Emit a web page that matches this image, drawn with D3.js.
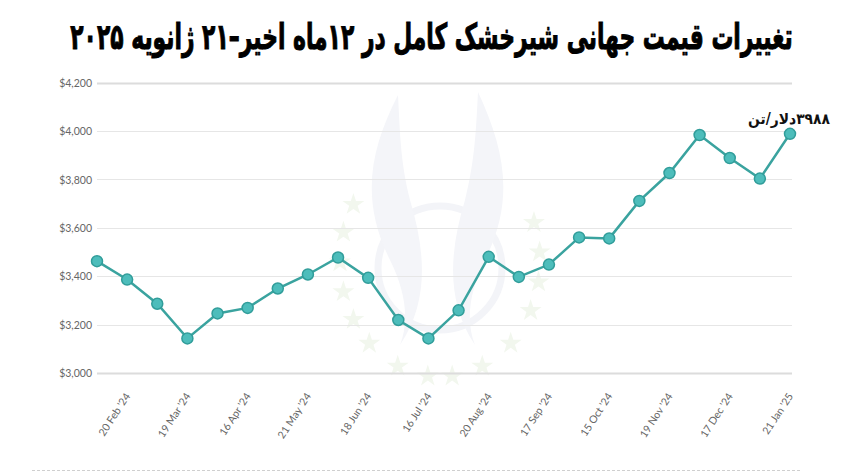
<!DOCTYPE html>
<html>
<head>
<meta charset="utf-8">
<script src="https://cdn.jsdelivr.net/npm/d3@7"></script>
<style>
  html, body { margin: 0; padding: 0; background: #ffffff; }
  svg { display: block; }
</style>
</head>
<body>
<div id="chart"></div>
<script>
// ---- data ----
const dates = [
  "23 Jan '24", "20 Feb '24", "05 Mar '24", "19 Mar '24", "02 Apr '24", "16 Apr '24",
  "07 May '24", "21 May '24", "04 Jun '24", "18 Jun '24", "02 Jul '24", "16 Jul '24",
  "06 Aug '24", "20 Aug '24", "03 Sep '24", "17 Sep '24", "01 Oct '24", "15 Oct '24",
  "05 Nov '24", "19 Nov '24", "03 Dec '24", "17 Dec '24", "07 Jan '25", "21 Jan '25"
];
const prices = [
  3462, 3386, 3286, 3143, 3246, 3269,
  3349, 3407, 3477, 3393, 3219, 3143,
  3259, 3480, 3397, 3448, 3560, 3556,
  3711, 3826, 3983, 3888, 3803, 3988
];
const yTicks = [3000, 3200, 3400, 3600, 3800, 4000, 4200];
const labelledDates = dates.filter((d, i) => i % 2 === 1);
const titleText = "تغییرات قیمت جهانی شیرخشک کامل در ۱۲ماه اخیر–۲۱ ژانویه ۲۰۲۵";
const lastLabel = "۳۹۸۸دلار/تن";

// ---- layout ----
const W = 842, H = 476;
const plotLeft = 97, plotRight = 792, plotTop = 82.5, plotBottom = 373;

const svg = d3.select("#chart").append("svg")
  .attr("width", W).attr("height", H);

const x = d3.scalePoint().domain(dates).range([plotLeft, 790]);
const y = d3.scaleLinear().domain([3000, 4200]).range([plotBottom, plotTop]);

// watermark (faint)
const wm = svg.append("g");
wm.append("circle").attr("cx", 440).attr("cy", 268).attr("r", 62)
  .attr("fill", "none").attr("stroke", "#f3f4f8").attr("stroke-width", 7);
const starAngles = [-150, -165, 180, 165, 150, 135, 115, 97, 83, 65, 45, 25, 10, -5, -20];
const starPath = d3.symbol().type(d3.symbolStar).size(150)();
starAngles.forEach(a => {
  const r = a * Math.PI / 180;
  wm.append("path").attr("d", starPath)
    .attr("transform", `translate(${440 + 100 * Math.cos(r)},${262 + 115 * Math.sin(r)})`)
    .attr("fill", "#f2f7ee");
});
wm.append("path")
  .attr("d", "M398,95 C370,150 360,200 390,260 C405,290 410,320 400,345 C430,300 425,250 410,200 C400,160 400,130 398,95 Z")
  .attr("fill", "#f4f5f9");
wm.append("path")
  .attr("d", "M478,92 C505,150 515,200 485,260 C470,290 465,320 475,345 C445,300 450,250 465,200 C475,160 476,130 478,92 Z")
  .attr("fill", "#f4f5f9");

// gridlines
svg.append("g").selectAll("line").data(yTicks).join("line")
  .attr("x1", plotLeft).attr("x2", plotRight)
  .attr("y1", d => Math.round(y(d)) + 0.5).attr("y2", d => Math.round(y(d)) + 0.5)
  .attr("stroke", d => (d === 3000 || d === 4200) ? "#dcdcdc" : "#e6e6e6")
  .attr("stroke-width", d => (d === 3000 || d === 4200) ? 2 : 1);

// y axis labels
const yAxis = d3.axisLeft(y).tickValues(yTicks).tickSize(0).tickPadding(0)
  .tickFormat(d => "$" + d3.format(",")(d));
const ya = svg.append("g").attr("transform", `translate(92,0)`).call(yAxis);
ya.select(".domain").remove();
ya.selectAll("text").attr("font-family", "Lato, 'Open Sans', sans-serif")
  .attr("font-size", 10.5).attr("fill", "#666").attr("dy", "0.35em");

// x axis labels
const xAxis = d3.axisBottom(x).tickValues(labelledDates).tickSize(0).tickPadding(0);
const xa = svg.append("g").attr("transform", `translate(0,${plotBottom + 17})`).call(xAxis);
xa.select(".domain").remove();
xa.selectAll("text")
  .attr("font-family", "Lato, 'Open Sans', sans-serif")
  .attr("font-size", 10.5).attr("fill", "#666")
  .attr("text-anchor", "end")
  .attr("dy", "0.35em").attr("y", 0).attr("x", 0)
  .attr("transform", "translate(0,4) rotate(-57)");

// line
const line = d3.line().x((d, i) => x(dates[i])).y(d => y(d));
svg.append("path").datum(prices)
  .attr("d", line).attr("fill", "none")
  .attr("stroke", "#3aa39f").attr("stroke-width", 2.5);

// points
svg.append("g").selectAll("circle").data(prices).join("circle")
  .attr("cx", (d, i) => x(dates[i])).attr("cy", d => y(d))
  .attr("r", 5.5)
  .attr("fill", "#4dbdbb").attr("stroke", "#319d9a").attr("stroke-width", 1.5);

// helper: fit rtl text into a box [x0, x1] horizontally
function fitText(sel, x0, x1, baseline, ky) {
  const node = sel.node();
  const w = node.getComputedTextLength();
  const k = (x1 - x0) / w;
  sel.attr("x", 0).attr("y", 0).attr("text-anchor", "middle")
    .attr("transform", `translate(${(x0 + x1) / 2},${baseline}) scale(${k},${ky || 1})`);
}

// last value label
const ll = svg.append("text")
  .attr("direction", "rtl")
  .attr("font-family", "'DejaVu Sans', sans-serif").attr("font-weight", "bold")
  .attr("font-size", 15).attr("fill", "#111")
  .text(lastLabel);
fitText(ll, 748, 830, 124);

// title
const tt = svg.append("text")
  .attr("direction", "rtl")
  .attr("font-family", "'DejaVu Sans', sans-serif").attr("font-weight", "bold")
  .attr("font-size", 31).attr("fill", "#000")
  .attr("stroke", "#000").attr("stroke-width", 0.9)
  .text(titleText);
fitText(tt, 70, 793, 49, 1.15);

// bottom dashed line
svg.append("line").attr("x1", 32).attr("x2", 800)
  .attr("y1", 470.5).attr("y2", 470.5)
  .attr("stroke", "#cfcfcf").attr("stroke-dasharray", "3,2");
</script>
</body>
</html>
